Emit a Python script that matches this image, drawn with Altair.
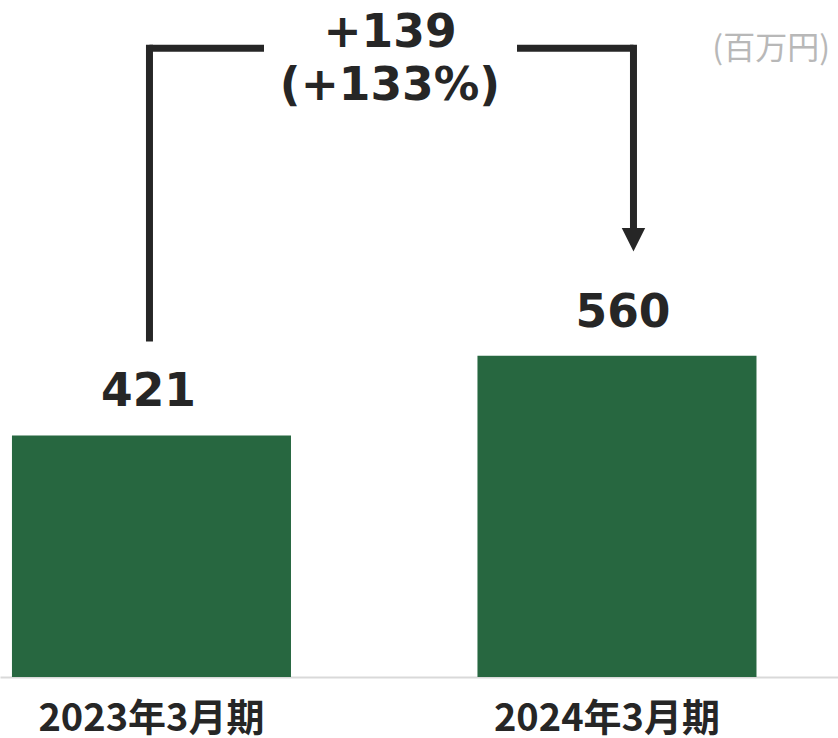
import altair as alt
import pandas as pd

# ---- data ----
periods = ["2023年3月期", "2024年3月期"]
values = [421, 560]
diff_lines = ["+139", "(+133%)"]
unit_label = "(百万円)"

# bracket levels (in data units)
bracket_level = 1096
left_start = 591
arrow_end = 779
arrow_pos = 762

df = pd.DataFrame({"period": periods, "value": values})
df_a = df[df["period"] == periods[0]]
df_b = df[df["period"] == periods[1]]

INK = "#262626"
GREEN = "#276740"
NUM_FONT = "DejaVu Sans"
NUM_SIZE = 45.5

x_enc = alt.X(
    "period:N",
    sort=periods,
    scale=alt.Scale(paddingInner=0.4006, paddingOuter=0.1004, align=0.128),
    axis=alt.Axis(
        title=None,
        labelAngle=0,
        ticks=False,
        domainColor="#d9d9d9",
        domainWidth=2,
        labelFont="Noto Sans CJK JP",
        labelFontWeight="bold",
        labelFontSize=38,
        labelColor=INK,
        labelPadding=23,
        labelLimit=0,
        labelOffset={"condition": {"test": "datum.value == '2024年3月期'", "value": -10}, "value": 0},
    ),
)
y_scale = alt.Scale(domain=[0, 1180], nice=False, zero=True)

bars = alt.Chart(df).mark_bar(color=GREEN).encode(
    x=x_enc,
    y=alt.Y("value:Q", scale=y_scale, axis=None),
)

def value_label(d, dx):
    return alt.Chart(d).mark_text(
        dy=-29, dx=dx, baseline="alphabetic", fontSize=NUM_SIZE,
        font=NUM_FONT, fontWeight="bold", color=INK,
    ).encode(
        x=alt.X("period:N", sort=periods),
        y=alt.Y("value:Q", scale=y_scale),
        text=alt.Text("value:Q"),
    )

label_a = value_label(df_a, -3)
label_b = value_label(df_b, 6)

rule_kw = dict(color=INK, strokeWidth=7)

left_vert = alt.Chart(df_a).mark_rule(strokeCap="square", xOffset=-2, **rule_kw).encode(
    x=alt.X("period:N", sort=periods),
    y=alt.datum(left_start),
    y2=alt.datum(bracket_level),
)
left_horiz = alt.Chart(df_a).mark_rule(xOffset=-2, **rule_kw).encode(
    x=alt.X("period:N", sort=periods),
    x2=alt.value(264),
    y=alt.datum(bracket_level),
)
right_horiz = alt.Chart(df_b).mark_rule(xOffset=16.5, **rule_kw).encode(
    x=alt.X("period:N", sort=periods),
    x2=alt.value(517),
    y=alt.datum(bracket_level),
)
right_vert = alt.Chart(df_b).mark_rule(strokeCap="square", xOffset=16.5, **rule_kw).encode(
    x=alt.X("period:N", sort=periods),
    y=alt.datum(bracket_level),
    y2=alt.datum(arrow_end),
)
arrow = alt.Chart(df_b).mark_point(
    shape="M-1,-1L1,-1L0,1Z", filled=True, size=548, color=INK, opacity=1, xOffset=16.5,
).encode(
    x=alt.X("period:N", sort=periods),
    y=alt.datum(arrow_pos),
)

diff_text = alt.Chart(df_a).mark_text(
    text=diff_lines, lineHeight=53, baseline="alphabetic", align="center",
    fontSize=NUM_SIZE, font=NUM_FONT, fontWeight="bold", color=INK, dy=-1,
).encode(
    x=alt.value(390),
    y=alt.datum(bracket_level),
)

unit_text = alt.Chart(df_a).mark_text(
    text=unit_label, align="right", baseline="alphabetic",
    fontSize=32, font="Noto Sans CJK JP", color="#b8b8b8",
).encode(
    x=alt.value(830),
    y=alt.value(59),
)

chart = alt.layer(
    bars, label_a, label_b, left_vert, left_horiz, right_horiz, right_vert, arrow, diff_text, unit_text
).properties(
    width=838, height=677, padding=0, background="white"
).configure_view(stroke=None)

chart.save("out.html", embed_options={"renderer": "svg", "actions": False})
